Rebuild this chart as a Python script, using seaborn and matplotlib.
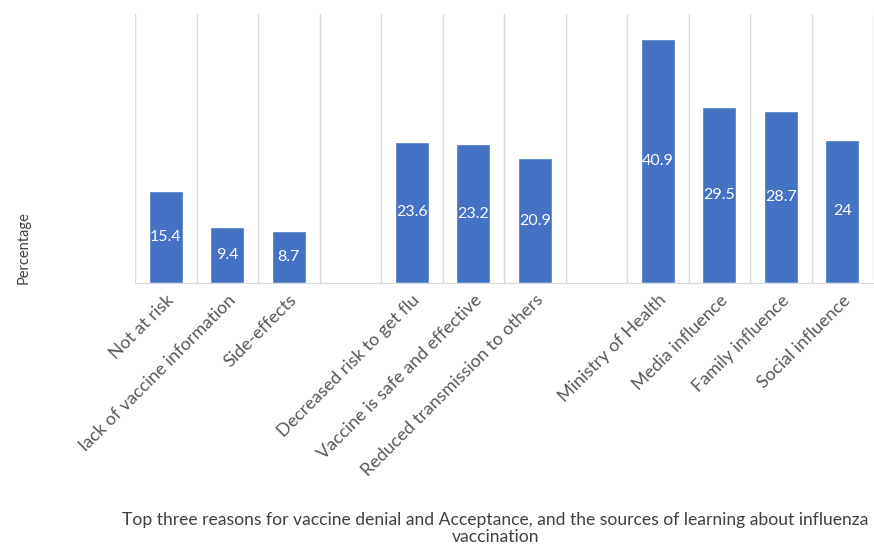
import numpy as np
import pandas as pd
import seaborn as sns
import matplotlib.pyplot as plt

categories = ["Not at risk", "lack of vaccine information", "Side-effects", " ",
              "Decreased risk to get flu", "Vaccine is safe and effective",
              "Reduced transmission to others", "  ",
              "Ministry of Health", "Media influence", "Family influence", "Social influence"]
values = [15.4, 9.4, 8.7, 0, 23.6, 23.2, 20.9, 0, 40.9, 29.5, 28.7, 24]
value_labels = ["15.4", "9.4", "8.7", "", "23.6", "23.2", "20.9", "", "40.9", "29.5", "28.7", "24"]

df = pd.DataFrame({"Reason": categories, "Percentage": values})

sns.set_style("white")
plt.rcParams['font.family'] = ['Lato', 'DejaVu Sans']

fig = plt.figure(figsize=(8.74, 5.44), dpi=100)
ax = fig.add_axes([135/874, 1 - 283/544, 738/874, 269/544])

sns.barplot(data=df, x="Reason", y="Percentage", order=categories,
            color="#4472C4", saturation=1, width=0.55, ax=ax)

for bar, lab in zip(ax.patches, value_labels):
    if lab:
        ax.text(bar.get_x() + bar.get_width() / 2, bar.get_height() / 2, lab,
                ha="center", va="center", color="white", fontsize=11.5)

ax.set_ylim(0, 45)
ax.set_xlim(-0.5, len(categories) - 0.5)
ax.set_yticks([])
ax.set_xticks(np.arange(-0.5, len(categories)), minor=True)
ax.grid(True, which="minor", axis="x", color="#d9d9d9", linewidth=1)
ax.tick_params(axis="x", which="both", length=0)
for s in ["top", "right", "left"]:
    ax.spines[s].set_visible(False)
ax.spines["bottom"].set_color("#d9d9d9")

ax.set_xticks(range(len(categories)))
ax.set_xticklabels(categories, rotation=45, ha="right", rotation_mode="anchor",
                   fontsize=13, color="#595959")
for t in ax.get_xticklabels():
    t.set_y(-0.015)

ax.set_ylabel("Percentage", fontsize=10.5, color="#404040")
ax.yaxis.set_label_coords(-0.141, 0.13)
ax.set_xlabel("Top three reasons for vaccine denial and Acceptance, and the sources of learning about influenza\nvaccination",
              fontsize=12.6, color="#404040", linespacing=1.1)
ax.xaxis.set_label_coords(0.488, -0.852)

fig.savefig("out.png", dpi=100)
